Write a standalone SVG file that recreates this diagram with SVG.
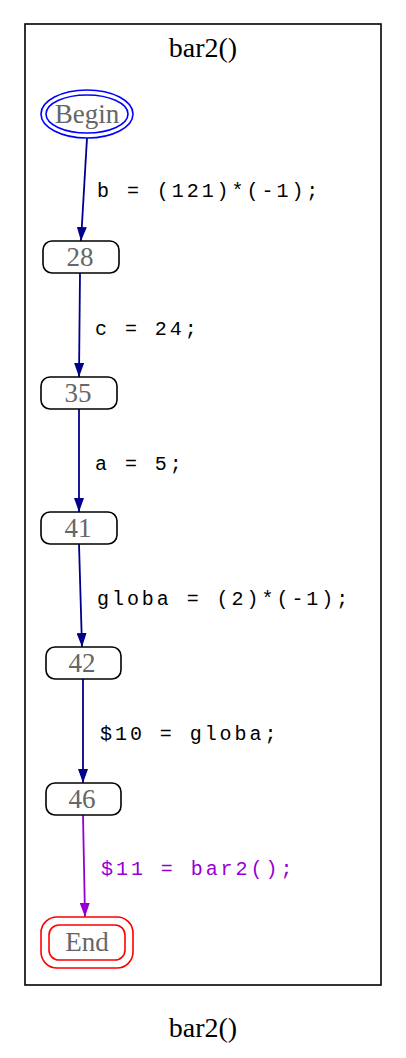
<svg xmlns="http://www.w3.org/2000/svg" width="406" height="1058" viewBox="0 0 406 1058">
<style>
.t{font-family:"Liberation Serif","Times New Roman",serif;font-size:28px;text-anchor:middle}
.n{fill:#666666;font-size:27px}
.box{fill:none;stroke:#000;stroke-width:1.6}
.lbl{font-family:"Liberation Mono","Courier New",monospace;font-size:20px;letter-spacing:2.95px;fill:#000}
.e{fill:none;stroke:#00008b;stroke-width:1.8}
.ev{fill:none;stroke:#9400d3;stroke-width:1.8}
</style>
<defs>
<marker id="ah" markerWidth="15" markerHeight="10" refX="14" refY="5" orient="auto" markerUnits="userSpaceOnUse"><path d="M0,0 L14,5 L0,10 Z" fill="#00008b"/></marker>
<marker id="ahv" markerWidth="15" markerHeight="10" refX="14" refY="5" orient="auto" markerUnits="userSpaceOnUse"><path d="M0,0 L14,5 L0,10 Z" fill="#9400d3"/></marker>
</defs>
<rect width="406" height="1058" fill="#fff"/>
<g id="cluster">
<rect x="25" y="24" width="356" height="961" fill="none" stroke="#000" stroke-width="1.6"/>
<text class="t" x="203" y="57">bar2()</text>
</g>
<g id="edges">
<path class="e" d="M87,138 L81,241" marker-end="url(#ah)"/>
<path class="e" d="M80,273 L79,377" marker-end="url(#ah)"/>
<path class="e" d="M79,409 L79,512" marker-end="url(#ah)"/>
<path class="e" d="M79,544 L82,647" marker-end="url(#ah)"/>
<path class="e" d="M83,679 L83,783" marker-end="url(#ah)"/>
<path class="ev" d="M83,815 L85,917" marker-end="url(#ahv)"/>
<text class="lbl" x="97" y="197">b = (121)*(-1);</text>
<text class="lbl" x="95" y="335">c = 24;</text>
<text class="lbl" x="95" y="470">a = 5;</text>
<text class="lbl" x="97" y="605">globa = (2)*(-1);</text>
<text class="lbl" x="100" y="740">$10 = globa;</text>
<text class="lbl" x="101" y="875" style="fill:#9400d3">$11 = bar2();</text>
</g>
<g id="begin">
<ellipse cx="87" cy="114" rx="46" ry="24" fill="none" stroke="#0000ff" stroke-width="1.6"/>
<ellipse cx="87" cy="114" rx="41" ry="19" fill="none" stroke="#0000ff" stroke-width="1.6"/>
<text class="t n" x="87" y="123">Begin</text>
</g>
<g id="n28">
<rect class="box" x="43" y="241" width="76" height="32" rx="9"/>
<text class="t n" x="80" y="266">28</text>
</g>
<g id="n35">
<rect class="box" x="41" y="377" width="76" height="32" rx="9"/>
<text class="t n" x="78" y="402">35</text>
</g>
<g id="n41">
<rect class="box" x="41" y="512" width="76" height="32" rx="9"/>
<text class="t n" x="78" y="537">41</text>
</g>
<g id="n42">
<rect class="box" x="46" y="647" width="75" height="32" rx="9"/>
<text class="t n" x="82" y="672">42</text>
</g>
<g id="n46">
<rect class="box" x="46" y="783" width="75" height="32" rx="9"/>
<text class="t n" x="82" y="808">46</text>
</g>
<g id="end">
<rect x="41" y="917" width="92" height="51" rx="16" fill="none" stroke="#ff0000" stroke-width="1.6"/>
<rect x="49" y="925" width="76" height="35" rx="10" fill="none" stroke="#ff0000" stroke-width="1.6"/>
<text class="t n" x="87" y="951">End</text>
</g>
<text class="t" x="203" y="1037">bar2()</text>
</svg>
